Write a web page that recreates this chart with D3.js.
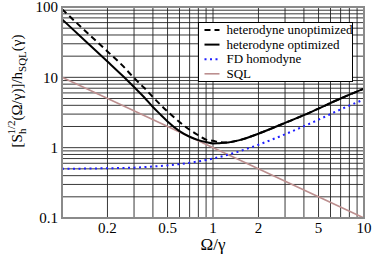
<!DOCTYPE html>
<html>
<head>
<meta charset="utf-8">
<script src="https://cdn.jsdelivr.net/npm/d3@7"></script>
<style>
  body { margin: 0; background: #fff; }
</style>
</head>
<body>
<div id="chart"></div>
<script>
// data
var omega = [0.1, 0.15, 0.2, 0.25, 0.3, 0.35, 0.4, 0.45, 0.5, 0.6, 0.7, 0.8, 0.9, 1.0, 1.1, 1.2, 1.5, 2, 3, 4, 5, 7, 10];
var hetUnopt = [93, 41.3, 23.3, 14.9, 9.8, 7.1, 5.25, 4.06, 3.26, 2.32, 1.80, 1.50, 1.30, 1.25, 1.20, 1.18, 1.28, 1.58, 2.25, 2.9, 3.6, 5.0, 6.9];
var hetOpt = [67, 29.8, 16.8, 10.7, 7.27, 5.2, 3.78, 2.94, 2.36, 1.72, 1.43, 1.28, 1.20, 1.15, 1.16, 1.17, 1.28, 1.58, 2.25, 2.9, 3.6, 5.0, 6.9];
var fdX = [0.1, 0.2, 0.3, 0.4, 0.5, 0.7, 1, 1.5, 2, 3, 5, 7, 10];
var fdY = [0.50, 0.51, 0.52, 0.54, 0.56, 0.61, 0.70, 0.89, 1.10, 1.55, 2.5, 3.5, 4.85];
var sqlX = [0.1, 10];
var sqlY = [10, 0.1];

var xTickLabels = [0.2, 0.5, 1, 2, 5, 10];
var yTickLabels = [0.1, 1, 10, 100];
var legendNames = ["heterodyne unoptimized", "heterodyne optimized", "FD homodyne", "SQL"];

var FONT = "Liberation Serif, DejaVu Serif";

var W = 374, H = 255;
var margin = {top: 7, right: 10, bottom: 37, left: 62};
var width = W - margin.left - margin.right,
    height = H - margin.top - margin.bottom;

var svg = d3.select("#chart").append("svg")
  .attr("width", W)
  .attr("height", H)
  .style("font-family", FONT);

var x = d3.scaleLog().domain([0.1, 10]).range([0, width]);
var y = d3.scaleLog().domain([0.1, 100]).range([height, 0]);

var g = svg.append("g")
  .attr("transform", "translate(" + margin.left + "," + margin.top + ")");

// grid (major + minor)
g.append("g").selectAll("line")
  .data(x.ticks())
  .enter().append("line")
  .attr("x1", function (d) { return x(d); })
  .attr("x2", function (d) { return x(d); })
  .attr("y1", 0).attr("y2", height)
  .attr("stroke", "#222").attr("stroke-width", 0.9);

g.append("g").selectAll("line")
  .data(y.ticks())
  .enter().append("line")
  .attr("y1", function (d) { return y(d); })
  .attr("y2", function (d) { return y(d); })
  .attr("x1", 0).attr("x2", width)
  .attr("stroke", "#222").attr("stroke-width", 0.9);

var line = d3.line()
  .x(function (d) { return x(d[0]); })
  .y(function (d) { return y(d[1]); })
  .curve(d3.curveMonotoneX);

function pairs(xs, ys) {
  return xs.map(function (v, i) { return [v, ys[i]]; });
}

var series = [
  {name: legendNames[0], data: pairs(omega, hetUnopt), color: "#000", w: 2, dash: "6,4"},
  {name: legendNames[1], data: pairs(omega, hetOpt), color: "#000", w: 2, dash: null},
  {name: legendNames[2], data: pairs(fdX, fdY), color: "#1f1fff", w: 2, dash: "2,3.5"},
  {name: legendNames[3], data: pairs(sqlX, sqlY), color: "#bc8f8f", w: 1.6, dash: null}
];

// draw SQL and homodyne below the black curves
[3, 2, 0, 1].forEach(function (i) {
  var s = series[i];
  g.append("path")
    .attr("d", line(s.data))
    .attr("fill", "none")
    .attr("stroke", s.color)
    .attr("stroke-width", s.w)
    .attr("stroke-dasharray", s.dash);
});

// frame
g.append("rect")
  .attr("x", 0).attr("y", 0)
  .attr("width", width).attr("height", height)
  .attr("fill", "none")
  .attr("stroke", "#8a8a8a")
  .attr("stroke-width", 2);

// tick labels
g.selectAll("text.xt")
  .data(xTickLabels)
  .enter().append("text")
  .attr("class", "xt")
  .attr("x", function (d) { return x(d); })
  .attr("y", height + 15)
  .attr("text-anchor", "middle")
  .attr("font-size", 15)
  .text(function (d) { return d; });

g.selectAll("text.yt")
  .data(yTickLabels)
  .enter().append("text")
  .attr("class", "yt")
  .attr("x", -4)
  .attr("y", function (d) { return y(d); })
  .attr("dy", "0.35em")
  .attr("text-anchor", "end")
  .attr("font-size", 15)
  .text(function (d) { return d; });

// axis titles
svg.append("text")
  .attr("x", margin.left + width / 2)
  .attr("y", 250)
  .attr("text-anchor", "middle")
  .attr("font-size", 17)
  .text("Ω/γ");

var yl = svg.append("text")
  .attr("transform", "translate(22,91) rotate(-90)")
  .attr("text-anchor", "middle")
  .attr("font-size", 15);
yl.append("tspan").text("[S");
yl.append("tspan").attr("font-size", 11).attr("dy", 4).text("h");
yl.append("tspan").attr("font-size", 11).attr("dx", -6).attr("dy", -11).text("1/2");
yl.append("tspan").attr("dy", 7).text("(Ω/γ)]/h");
yl.append("tspan").attr("font-size", 11).attr("dy", 4).text("SQL");
yl.append("tspan").attr("dy", -4).text("(γ)");

// legend
var lg = svg.append("g").attr("transform", "translate(198.5,22.5)");
lg.append("rect")
  .attr("width", 154).attr("height", 59)
  .attr("fill", "#fff")
  .attr("stroke", "#000")
  .attr("stroke-width", 1);

var rows = lg.selectAll("g.row")
  .data(series)
  .enter().append("g")
  .attr("class", "row")
  .attr("transform", function (d, i) { return "translate(0," + (7.5 + i * 14.6) + ")"; });

rows.append("line")
  .attr("x1", 6).attr("x2", 21)
  .attr("y1", 0).attr("y2", 0)
  .attr("stroke", function (d) { return d.color; })
  .attr("stroke-width", function (d) { return d.w; })
  .attr("stroke-dasharray", function (d) { return d.dash; });

rows.append("text")
  .attr("x", 28)
  .attr("dy", "0.33em")
  .attr("font-size", 13)
  .text(function (d) { return d.name; });
</script>
</body>
</html>
